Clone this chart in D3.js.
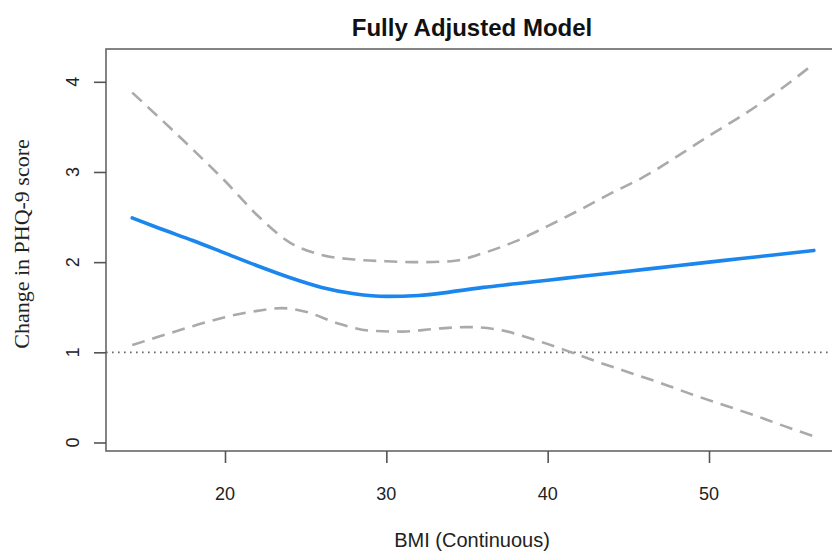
<!DOCTYPE html>
<html>
<head>
<meta charset="utf-8">
<script src="https://cdn.jsdelivr.net/npm/d3@7"></script>
<style>
  body { margin: 0; background: #fff; }
  svg { display: block; }
  .tick-label { font-family: "Liberation Sans", Arial, sans-serif; font-size: 18px; fill: #222; }
</style>
</head>
<body>
<svg id="chart" width="832" height="551"></svg>
<script>
const bmi      = [14.25, 16, 18, 20, 22, 24, 26, 28, 30, 32, 34, 36, 38, 40, 42, 44, 46, 48, 50, 52, 54, 56.5];
const estimate = [2.49, 2.37, 2.24, 2.10, 1.96, 1.83, 1.72, 1.65, 1.62, 1.63, 1.67, 1.72, 1.76, 1.80, 1.84, 1.88, 1.92, 1.96, 2.00, 2.04, 2.08, 2.13];
const upper    = [3.88, 3.59, 3.25, 2.90, 2.52, 2.22, 2.08, 2.03, 2.01, 2.00, 2.01, 2.10, 2.23, 2.40, 2.58, 2.77, 2.95, 3.17, 3.40, 3.62, 3.86, 4.20];
const lowerBmi = [14.25, 16, 18, 20, 22, 23.5, 25, 27, 29, 31, 33, 35, 37, 39, 41, 43, 45, 47, 49, 51, 53, 55, 56.5];
const lower    = [1.08, 1.18, 1.29, 1.39, 1.46, 1.49, 1.45, 1.32, 1.24, 1.23, 1.26, 1.28, 1.25, 1.15, 1.03, 0.90, 0.78, 0.66, 0.53, 0.41, 0.29, 0.16, 0.07];
const xTicks = [20, 30, 40, 50];
const yTicks = [0, 1, 2, 3, 4];
const refLine = 1;

const svg = d3.select("#chart");
const box = {left: 106, right: 841, top: 49, bottom: 451};

let x = d3.scaleLinear().domain([20, 50]).range([225, 709]);
let y = d3.scaleLinear().domain([0, 4]).range([442.5, 81.8]);

svg.append("clipPath").attr("id", "clip")
  .append("rect")
  .attr("x", box.left).attr("y", box.top)
  .attr("width", box.right - box.left).attr("height", box.bottom - box.top);

let plot = svg.append("g").attr("clip-path", "url(#clip)");

// reference line at 1
plot.append("line")
  .attr("x1", box.left).attr("x2", box.right)
  .attr("y1", y(refLine)).attr("y2", y(refLine))
  .attr("stroke", "#666").attr("stroke-width", 1.6)
  .attr("stroke-dasharray", "1.6,4.4");

let line = d3.line().curve(d3.curveMonotoneX);

// confidence bands
plot.append("path")
  .attr("d", line(bmi.map((b, i) => [x(b), y(upper[i])])))
  .attr("fill", "none").attr("stroke", "#aaaaaa")
  .attr("stroke-width", 2.6).attr("stroke-dasharray", "13,8");

plot.append("path")
  .attr("d", line(lowerBmi.map((b, i) => [x(b), y(lower[i])])))
  .attr("fill", "none").attr("stroke", "#aaaaaa")
  .attr("stroke-width", 2.6).attr("stroke-dasharray", "13,8");

// estimate
plot.append("path")
  .attr("d", line(bmi.map((b, i) => [x(b), y(estimate[i])])))
  .attr("fill", "none").attr("stroke", "#1a86ee")
  .attr("stroke-width", 3.6).attr("stroke-linecap", "round");

// box
svg.append("rect")
  .attr("x", box.left).attr("y", box.top)
  .attr("width", box.right - box.left).attr("height", box.bottom - box.top)
  .attr("fill", "none").attr("stroke", "#666").attr("stroke-width", 1.6);

// y axis
let yAxis = svg.append("g").attr("transform", `translate(${box.left},0)`)
  .call(d3.axisLeft(y).tickValues(yTicks).tickSize(12).tickFormat(""));
yAxis.select(".domain").remove();
yAxis.selectAll("line").attr("stroke", "#555").attr("stroke-width", 1.6);
svg.selectAll(".ylab").data(yTicks).enter().append("text")
  .attr("class", "tick-label")
  .attr("text-anchor", "middle")
  .attr("transform", d => `translate(79,${y(d)}) rotate(-90)`)
  .text(d => d);

// x axis
let xAxis = svg.append("g").attr("transform", `translate(0,${box.bottom})`)
  .call(d3.axisBottom(x).tickValues(xTicks).tickSize(12).tickFormat(""));
xAxis.select(".domain").remove();
xAxis.selectAll("line").attr("stroke", "#555").attr("stroke-width", 1.6);
svg.selectAll(".xlab").data(xTicks).enter().append("text")
  .attr("class", "tick-label")
  .attr("text-anchor", "middle")
  .attr("x", d => x(d)).attr("y", 500)
  .text(d => d);

// labels
svg.append("text")
  .attr("x", 472).attr("y", 36)
  .attr("text-anchor", "middle")
  .attr("font-family", "Liberation Sans, Arial, sans-serif")
  .attr("font-weight", "bold").attr("font-size", 24).attr("fill", "#111")
  .text("Fully Adjusted Model");

svg.append("text")
  .attr("x", 472).attr("y", 547)
  .attr("text-anchor", "middle")
  .attr("font-family", "Liberation Sans, Arial, sans-serif")
  .attr("font-size", 20).attr("fill", "#222")
  .text("BMI (Continuous)");

svg.append("text")
  .attr("transform", `translate(29,${(box.top + box.bottom) / 2 - 6}) rotate(-90)`)
  .attr("text-anchor", "middle")
  .attr("font-family", "Liberation Serif, Times New Roman, serif")
  .attr("font-size", 22).attr("fill", "#222")
  .text("Change in PHQ-9 score");
</script>
</body>
</html>
